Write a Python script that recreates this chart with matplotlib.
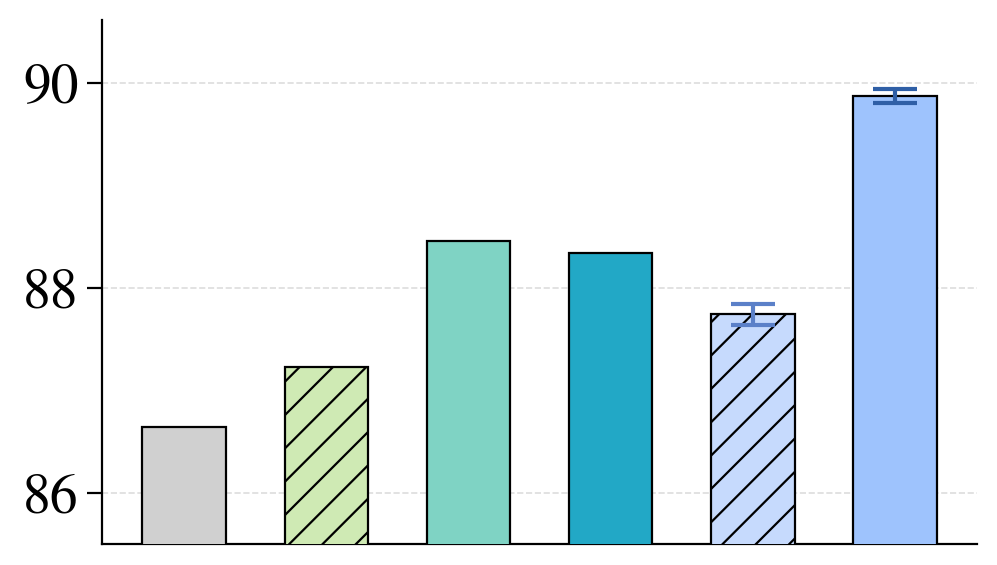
import matplotlib
matplotlib.use("Agg")
import matplotlib.pyplot as plt
import numpy as np

plt.rcParams['font.family'] = ['STIXGeneral', 'Liberation Serif', 'DejaVu Serif']
plt.rcParams['hatch.linewidth'] = 0.8

methods = ["M1", "M2", "M3", "M4", "M5", "M6"]
values = [86.64, 87.23, 88.45, 88.34, 87.74, 89.87]
errors = [None, None, None, None, 0.10, 0.07]
colors = ["#d0d0d0", "#cfeab4", "#7fd3c4", "#22a8c6", "#c6dafd", "#9ec3fd"]
hatches = ["", "//", "", "", "//", ""]
err_colors = [None, None, None, None, "#5b80c8", "#2f5fa6"]
yticks = [86, 88, 90]

fig = plt.figure(figsize=(4.985, 2.825), dpi=200)
ax = fig.add_axes([0.1023, 0.0372, 0.8777, 0.9274])

x = np.arange(len(methods))
for i in range(len(methods)):
    ax.bar(x[i], values[i], width=0.59, color=colors[i], edgecolor="black",
           linewidth=0.8, hatch=hatches[i] if hatches[i] else None, zorder=3)
    if errors[i] is not None:
        ax.errorbar(x[i], values[i], yerr=errors[i], fmt="none",
                    ecolor=err_colors[i], elinewidth=1.5, capsize=8,
                    capthick=1.5, zorder=4)

ax.set_ylim(85.5, 90.61)
ax.set_xlim(-0.58, 5.58)
ax.set_yticks(yticks)
ax.set_yticklabels([str(t) for t in yticks], fontsize=20)
ax.set_xticks([])
ax.tick_params(axis='y', length=5.4, width=0.8, pad=3)
ax.spines['top'].set_visible(False)
ax.spines['right'].set_visible(False)
for s in ['left', 'bottom']:
    ax.spines[s].set_linewidth(0.8)
ax.yaxis.grid(True, linestyle='--', color='#dddddd', linewidth=0.6, zorder=0)
ax.set_axisbelow(True)

fig.savefig("out.png", dpi=200)
